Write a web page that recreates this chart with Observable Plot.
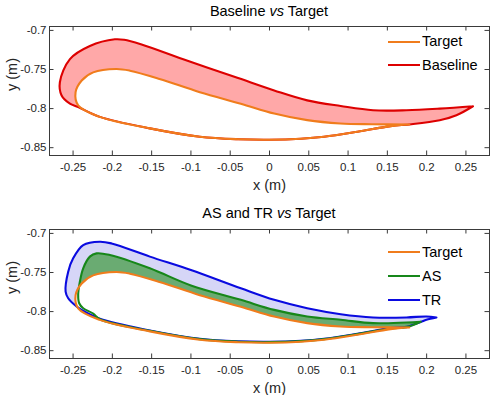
<!DOCTYPE html>
<html>
<head>
<meta charset="utf-8">
<script src="https://cdn.jsdelivr.net/npm/d3@7"></script>
<script src="https://cdn.jsdelivr.net/npm/@observablehq/plot@0.6"></script>
<style>
  body { margin: 0; background: #fff; font-family: "Liberation Sans", Arial, Helvetica, sans-serif; }
  #chart { position: relative; width: 492px; height: 395px; overflow: hidden; }
  .panel { position: absolute; left: 0; }
  .title { position: absolute; left: 49px; width: 440px; text-align: center; font-size: 14.5px; line-height: 1; color: #000; white-space: nowrap; }
  .legend { position: absolute; font-size: 14.5px; line-height: 1; color: #000; }
  .legend .row { display: flex; align-items: center; }
  .legend .swatch { width: 32px; height: 2.2px; margin-right: 2px; }
</style>
</head>
<body>
<div id="chart"></div>
<script>
// Blade profiles, each traced from the trailing-edge tip along the suction side
// to the leading edge and back along the pressure side.
const targetX = [0.178, 0.13, 0.09, 0.048, 0.006, -0.0365, -0.0887, -0.14, -0.1777, -0.195, -0.2244, -0.239, -0.2468, -0.2435, -0.2159, -0.1523, -0.0887, -0.04, 0.0, 0.04, 0.0695, 0.112, 0.154, 0.178];
const targetY = [-0.8203, -0.8200, -0.8190, -0.8148, -0.8063, -0.7937, -0.779, -0.762, -0.7515, -0.7494, -0.7537, -0.764, -0.779, -0.7958, -0.8106, -0.8253, -0.836, -0.8392, -0.8398, -0.8385, -0.836, -0.8296, -0.8224, -0.8203];

const baselineX = [0.259, 0.2167, 0.1743, 0.1318, 0.0907, 0.048, 0.006, -0.04, -0.1043, -0.1637, -0.185, -0.1968, -0.2286, -0.254, -0.2668, -0.2646, -0.254, -0.2435, -0.2159, -0.1523, -0.0887, -0.04, 0.0, 0.04, 0.0695, 0.112, 0.154, 0.1807, 0.2167, 0.2379, 0.259];
const baselineY = [-0.797, -0.800, -0.8021, -0.8021, -0.7967, -0.7895, -0.7768, -0.761, -0.7389, -0.7177, -0.712, -0.7114, -0.7199, -0.7367, -0.7663, -0.7832, -0.7937, -0.798, -0.8106, -0.8253, -0.836, -0.8392, -0.8398, -0.8385, -0.836, -0.8296, -0.8224, -0.82, -0.8148, -0.8085, -0.797];

const asX = [0.1925, 0.1743, 0.1318, 0.0907, 0.048, 0.006, -0.0365, -0.1, -0.1523, -0.2032, -0.2201, -0.2286, -0.2371, -0.2413, -0.2435, -0.2422, -0.2371, -0.2244, -0.2159, -0.1523, -0.0887, -0.04, 0.0, 0.04, 0.0695, 0.112, 0.154, 0.1743, 0.1925];
const asY = [-0.8131, -0.8139, -0.8148, -0.8105, -0.8062, -0.7978, -0.785, -0.7665, -0.7446, -0.7276, -0.7255, -0.7297, -0.7446, -0.7616, -0.7787, -0.7893, -0.7957, -0.8025, -0.8098, -0.8246, -0.8352, -0.8385, -0.8391, -0.8378, -0.8352, -0.8288, -0.8216, -0.8199, -0.8131];

const trX = [0.2125, 0.1997, 0.1743, 0.1318, 0.0907, 0.048, 0.006, -0.0365, -0.1, -0.1523, -0.201, -0.2159, -0.2371, -0.2499, -0.2562, -0.2595, -0.2562, -0.2455, -0.2392, -0.2159, -0.1523, -0.0887, -0.04, 0.0, 0.04, 0.0695, 0.112, 0.154, 0.1743, 0.1925, 0.1997, 0.2125];
const trY = [-0.8075, -0.8062, -0.8075, -0.8075, -0.8033, -0.7957, -0.785, -0.7702, -0.7468, -0.7297, -0.7128, -0.7106, -0.7149, -0.7319, -0.7489, -0.7744, -0.7829, -0.7935, -0.7978, -0.8093, -0.8241, -0.8348, -0.8381, -0.8387, -0.8374, -0.8348, -0.8284, -0.8212, -0.8195, -0.8133, -0.8105, -0.8075];

// Axis ticks
const xTicks = [-0.25, -0.2, -0.15, -0.1, -0.05, 0, 0.05, 0.1, 0.15, 0.2, 0.25];
const yTicks = [-0.85, -0.8, -0.75, -0.7];
const xDomain = [-0.28, 0.28];
const yDomain = [-0.86, -0.695];

// Series styles
const colors = { Target: "#f07c1c", Baseline: "#dd0000", AS: "#17871a", TR: "#0a0ae0" };
const fills = { Baseline: "#ffa8a8", AS: "#6aab72", TR: "#d6d6f7" };

const toPoints = (xs, ys) => xs.map((x, i) => ({ x, y: ys[i] }));
const profiles = {
  Target: toPoints(targetX, targetY),
  Baseline: toPoints(baselineX, baselineY),
  AS: toPoints(asX, asY),
  TR: toPoints(trX, trY)
};

const fmt = d => String(d);
const axisColor = "#3a3a3a";
const font = '"Liberation Sans", Arial, Helvetica, sans-serif';
const tickLen = 4.5;

function panel({ height, marginTop, marginBottom, filled, drawn }) {
  const marginLeft = 49, marginRight = 3;
  const plotH = height - marginTop - marginBottom;
  const plotW = 492 - marginLeft - marginRight;
  const marks = [];
  // shaded areas: outer shapes first, then the target interior left blank
  for (const name of filled) {
    marks.push(Plot.line(profiles[name], { x: "x", y: "y", curve: "catmull-rom", fill: fills[name], stroke: "none" }));
  }
  marks.push(Plot.line(profiles.Target, { x: "x", y: "y", curve: "catmull-rom", fill: "#fff", stroke: "none" }));
  for (const name of drawn) {
    marks.push(Plot.line(profiles[name], { x: "x", y: "y", curve: "catmull-rom", stroke: colors[name], strokeWidth: 2.1, strokeLinejoin: "round" }));
  }
  // box and inward ticks on all four sides
  marks.push(Plot.frame({ stroke: axisColor, strokeWidth: 1 }));
  marks.push(Plot.tickX(xTicks, { x: d => d, insetTop: plotH - tickLen, stroke: axisColor }));
  marks.push(Plot.tickX(xTicks, { x: d => d, insetBottom: plotH - tickLen, stroke: axisColor }));
  marks.push(Plot.tickY(yTicks, { y: d => d, insetRight: plotW - tickLen, stroke: axisColor }));
  marks.push(Plot.tickY(yTicks, { y: d => d, insetLeft: plotW - tickLen, stroke: axisColor }));
  // tick labels
  marks.push(Plot.axisX(xTicks, { anchor: "bottom", tickSize: 0, tickPadding: 7, tickFormat: fmt, label: null, fill: "#262626" }));
  marks.push(Plot.axisY(yTicks, { anchor: "left", tickSize: 0, tickPadding: 3, tickFormat: fmt, label: null, fill: "#262626" }));
  // axis titles
  marks.push(Plot.text(["x (m)"], { text: d => d, frameAnchor: "bottom", dy: 30, lineAnchor: "middle", fontSize: 14.5, fill: "#262626" }));
  marks.push(Plot.text(["y (m)"], { text: d => d, frameAnchor: "left", dx: -37, rotate: -90, lineAnchor: "middle", fontSize: 14.5, fill: "#262626" }));

  return Plot.plot({
    width: 492, height, marginLeft, marginRight, marginTop, marginBottom,
    x: { domain: xDomain },
    y: { domain: yDomain },
    style: { fontFamily: font, fontSize: "11.5px", background: "transparent", overflow: "visible" },
    marks
  });
}

const chart = document.getElementById("chart");

function place(el, top) {
  el.classList.add("panel");
  el.style.top = top + "px";
  chart.appendChild(el);
}

function addTitle(html, top) {
  const t = document.createElement("div");
  t.className = "title";
  t.style.top = top + "px";
  t.innerHTML = html;
  chart.appendChild(t);
}

function addLegend(names, left, top, rowH) {
  const lg = document.createElement("div");
  lg.className = "legend";
  lg.style.left = left + "px";
  lg.style.top = top + "px";
  for (const name of names) {
    const row = document.createElement("div");
    row.className = "row";
    row.style.height = rowH + "px";
    const sw = document.createElement("span");
    sw.className = "swatch";
    sw.style.background = colors[name];
    const tx = document.createElement("span");
    tx.textContent = name;
    row.appendChild(sw);
    row.appendChild(tx);
    lg.appendChild(row);
  }
  chart.appendChild(lg);
}

place(panel({ height: 200, marginTop: 26, marginBottom: 45, filled: ["Baseline"], drawn: ["Baseline", "Target"] }), 0);
place(panel({ height: 195, marginTop: 29, marginBottom: 37, filled: ["TR", "AS"], drawn: ["TR", "AS", "Target"] }), 200);

addTitle("Baseline <i>vs</i> Target", 4);
addTitle("AS and TR <i>vs</i> Target", 206);

addLegend(["Target", "Baseline"], 388, 30, 23.4);
addLegend(["Target", "AS", "TR"], 388, 240, 24);
</script>
</body>
</html>
